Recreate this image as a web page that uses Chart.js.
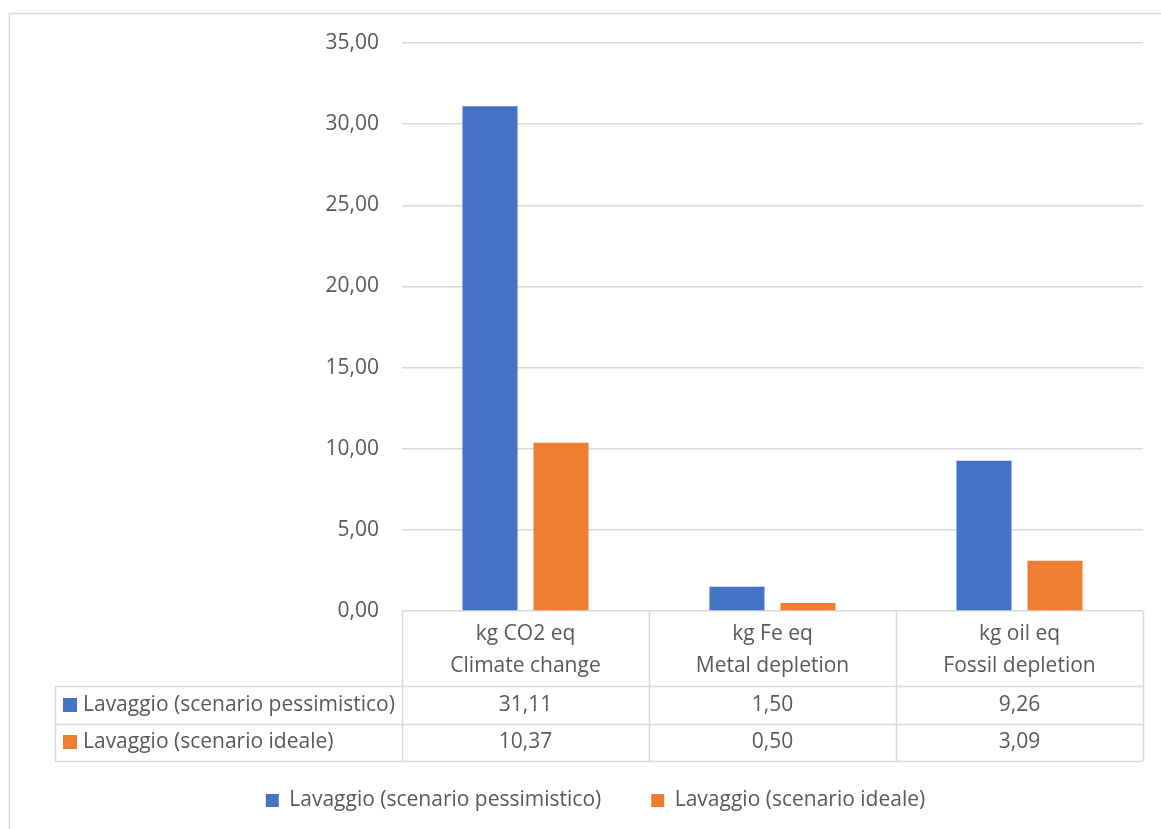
<!DOCTYPE html>
<html>
<head>
<meta charset="utf-8">
<script src="https://cdn.jsdelivr.net/npm/chart.js@4.4.1/dist/chart.umd.min.js"></script>
<style>
  html, body { margin: 0; padding: 0; background: #ffffff; }
  #wrap { width: 1161px; height: 829px; position: relative; }
</style>
</head>
<body>
<div id="wrap"><canvas id="chart" width="1161" height="829"></canvas></div>
<script>
// Impact categories, units and results per scenario
const units = ['kg CO2 eq', 'kg Fe eq', 'kg oil eq'];
const categories = ['Climate change', 'Metal depletion', 'Fossil depletion'];
const seriesNames = ['Lavaggio (scenario pessimistico)', 'Lavaggio (scenario ideale)'];
const pessimistico = [31.11, 1.50, 9.26];
const ideale = [10.37, 0.50, 3.09];
const seriesColors = ['#4472C4', '#ED7D31'];
const yMin = 0, yMax = 35, yStep = 5;

const FONT = "'Open Sans', sans-serif";
const FONT_SIZE = 21;
const TEXT = '#595959';
const LINE = '#D9D9D9';

const fmt = v => v.toFixed(2).replace('.', ',');

// Outer frame of the chart object
const framePlugin = {
  id: 'frame',
  beforeDraw(chart) {
    const ctx = chart.ctx;
    ctx.save();
    ctx.fillStyle = '#ffffff';
    ctx.fillRect(0, 0, chart.width, chart.height);
    ctx.strokeStyle = LINE;
    ctx.lineWidth = 1.5;
    ctx.strokeRect(9.5, 13.5, chart.width + 40, chart.height + 40);
    ctx.restore();
  }
};

// Data table under the plot, aligned to the category scale
const dataTablePlugin = {
  id: 'dataTable',
  afterDraw(chart) {
    const ctx = chart.ctx;
    const x = chart.scales.x;
    const area = chart.chartArea;
    const n = categories.length;
    const cw = (x.right - x.left) / n;
    const top = area.bottom;
    const headerH = 75;
    const rowH = 37.5;
    const tableLeft = 55;
    const bottom = top + headerH + 2 * rowH;
    const rows = [pessimistico, ideale];

    ctx.save();
    ctx.strokeStyle = LINE;
    ctx.lineWidth = 1.5;
    ctx.beginPath();
    for (let i = 0; i <= n; i++) {
      const xp = Math.round(x.getPixelForValue(0) - cw / 2 + i * cw) + 0.5;
      ctx.moveTo(xp, top);
      ctx.lineTo(xp, bottom);
    }
    for (let r = 0; r <= 2; r++) {
      const yp = Math.round(top + headerH + r * rowH) + 0.5;
      ctx.moveTo(tableLeft, yp);
      ctx.lineTo(x.right, yp);
    }
    ctx.moveTo(tableLeft + 0.5, top + headerH);
    ctx.lineTo(tableLeft + 0.5, bottom);
    ctx.stroke();

    ctx.fillStyle = TEXT;
    ctx.font = FONT_SIZE + 'px ' + FONT;
    ctx.textBaseline = 'middle';
    ctx.textAlign = 'center';
    for (let i = 0; i < n; i++) {
      const cx = x.getPixelForValue(i);
      ctx.fillText(units[i], cx, top + 23);
      ctx.fillText(categories[i], cx, top + 55);
      rows.forEach((vals, r) => {
        ctx.fillText(fmt(vals[i]), cx, top + headerH + r * rowH + rowH / 2);
      });
    }
    ctx.textAlign = 'left';
    rows.forEach((vals, r) => {
      const cy = top + headerH + r * rowH + rowH / 2;
      ctx.fillStyle = seriesColors[r];
      ctx.fillRect(63, Math.round(cy - 7), 14, 14);
      ctx.fillStyle = TEXT;
      ctx.fillText(seriesNames[r], 83, cy);
    });
    ctx.restore();
  }
};

Chart.defaults.font.family = FONT;
Chart.defaults.font.size = FONT_SIZE;
Chart.defaults.color = TEXT;

new Chart(document.getElementById('chart'), {
  type: 'bar',
  data: {
    labels: categories,
    datasets: [
      { label: seriesNames[0], data: pessimistico, backgroundColor: seriesColors[0],
        categoryPercentage: 0.575, barPercentage: 0.775 },
      { label: seriesNames[1], data: ideale, backgroundColor: seriesColors[1],
        categoryPercentage: 0.575, barPercentage: 0.775 }
    ]
  },
  options: {
    responsive: false,
    animation: false,
    devicePixelRatio: 1,
    layout: { padding: { top: 43, right: 18, left: 48, bottom: 8 } },
    plugins: {
      tooltip: { enabled: false },
      legend: {
        position: 'bottom',
        labels: {
          boxWidth: 13,
          boxHeight: 13,
          padding: 50,
          color: TEXT,
          font: { family: FONT, size: FONT_SIZE }
        }
      }
    },
    scales: {
      x: {
        type: 'category',
        grid: { display: false },
        border: { display: false },
        ticks: { display: false },
        afterFit(scale) { scale.height = 129; }
      },
      y: {
        min: yMin,
        max: yMax,
        ticks: {
          stepSize: yStep,
          padding: 23,
          color: TEXT,
          font: { family: FONT, size: FONT_SIZE },
          callback: v => fmt(v)
        },
        grid: { color: LINE, lineWidth: 1.5, drawTicks: false },
        border: { display: false },
        afterFit(scale) { scale.width = 354; }
      }
    }
  },
  plugins: [framePlugin, dataTablePlugin]
});
</script>
</body>
</html>
